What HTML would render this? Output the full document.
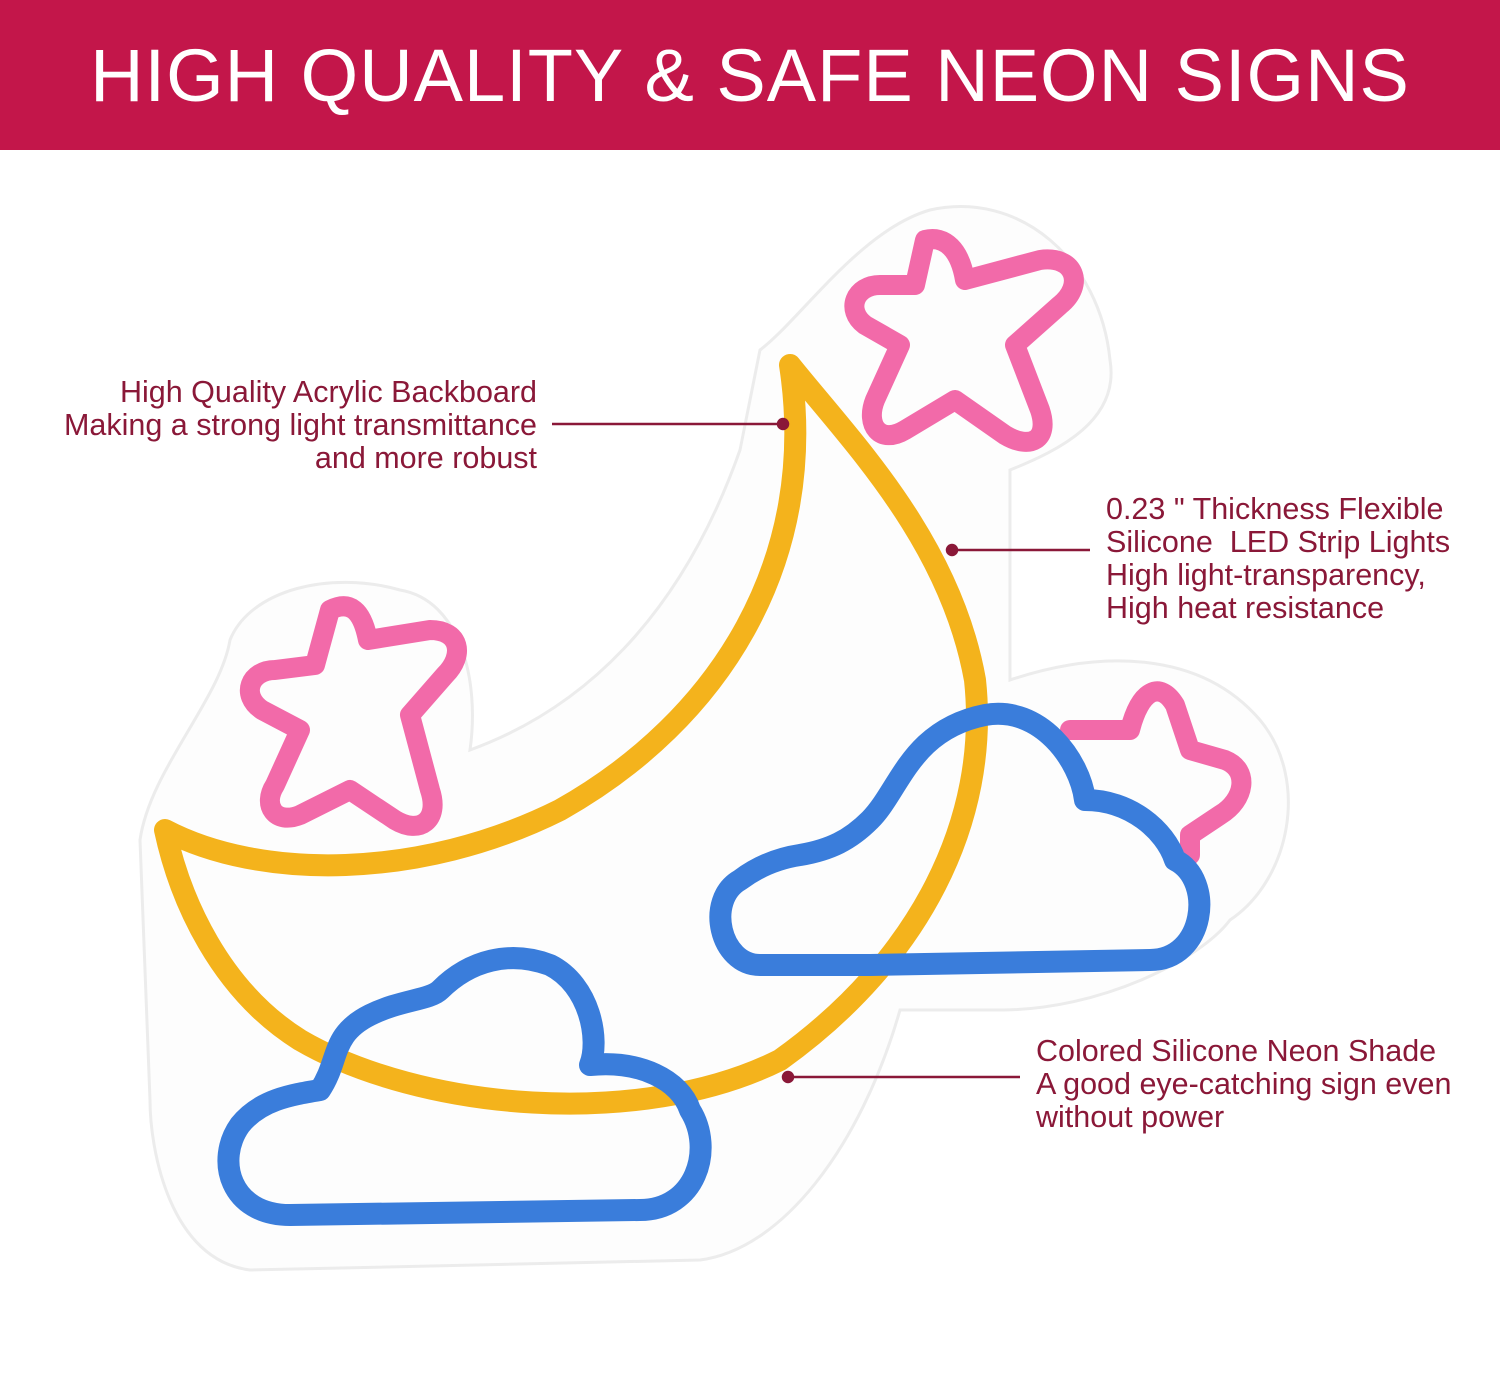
<!DOCTYPE html>
<html><head><meta charset="utf-8"><style>
body{margin:0;width:1500px;height:1374px;background:#fff;overflow:hidden;font-family:"Liberation Sans",sans-serif}
.hdr{position:absolute;left:0;top:0;width:1500px;height:150px;background:#c3164a;color:#fff;font-size:74px;text-align:center;line-height:152px;letter-spacing:1px}
.t{position:absolute;color:#8a1838;font-size:30.5px;line-height:33px}
</style></head><body>
<div class="hdr">HIGH QUALITY &amp; SAFE NEON SIGNS</div>
<svg width="1500" height="1374" style="position:absolute;left:0;top:0">
<path d="M760,350 C800,320 860,230 930,210 C1020,190 1100,260 1110,360 C1120,420 1060,450 1010,470 L1010,680 C1100,650 1200,650 1260,720 C1310,780 1290,880 1230,920 C1200,960 1100,1010 1000,1010 L900,1010 C860,1150 780,1250 700,1260 L250,1270 C170,1260 150,1150 150,1100 L140,840 C150,770 220,700 230,640 C250,590 330,570 400,590 C460,600 480,680 470,750 C580,710 680,620 740,450 Z" fill="#fdfdfd" stroke="#ececec" stroke-width="3"/>
<g fill="none" stroke-linejoin="round" stroke-linecap="round">
<path d="M790,365 C850,440 950,540 975,680 C990,820 920,960 780,1060 C640,1130 420,1110 300,1040 C220,990 180,900 165,830 C260,880 420,880 560,810 C720,720 820,560 790,365 Z" stroke="#f4b31c" stroke-width="22"/>
<path d="M925,240 C945,235 960,250 965,280 L1040,260 C1075,255 1085,285 1060,305 L1015,345 L1040,410 C1050,440 1030,450 1005,435 L955,400 L905,430 C880,445 865,425 875,400 L900,345 L865,325 C845,310 855,285 880,285 L915,285 Z" stroke="#f26aa9" stroke-width="20"/>
<path d="M330,610 C350,600 362,610 368,640 L430,630 C460,630 465,655 445,675 L410,715 L430,790 C440,820 420,835 395,820 L350,790 L300,815 C275,825 262,805 275,785 L300,730 L262,710 C240,695 250,670 275,670 L315,665 Z" stroke="#f26aa9" stroke-width="20"/>
<path d="M1070,730 L1130,730 C1140,690 1160,680 1175,705 L1190,750 L1225,760 C1250,770 1245,800 1220,815 L1190,835 L1190,855" stroke="#f26aa9" stroke-width="20"/>
<path d="M800,855 C830,850 850,840 870,820 C900,790 910,730 985,715 C1040,705 1080,760 1085,800 C1130,800 1165,830 1175,860 C1215,880 1205,960 1150,960 L870,965 L760,965 C720,965 705,900 740,880 C760,865 780,858 800,855 Z" stroke="#3a7ddb" stroke-width="22"/>
<path d="M320,1090 C340,1060 330,1035 370,1015 C400,1000 430,1000 440,990 C470,960 510,950 550,965 C590,985 600,1040 590,1065 C640,1060 680,1080 690,1110 C715,1150 695,1210 640,1210 L290,1215 C230,1215 215,1160 240,1125 C260,1100 290,1095 320,1090 Z" stroke="#3a7ddb" stroke-width="22"/>
</g>
<g stroke="#8a1838" stroke-width="2.5" fill="#8a1838">
<line x1="552" y1="424" x2="783" y2="424"/><circle cx="783" cy="424" r="5"/>
<line x1="952" y1="550" x2="1090" y2="550"/><circle cx="952" cy="550" r="5"/>
<line x1="788" y1="1077" x2="1020" y2="1077"/><circle cx="788" cy="1077" r="5"/>
</g>
</svg>
<div class="t" style="right:963px;top:376px;text-align:right">High Quality Acrylic Backboard<br>Making a strong light transmittance<br>and more robust</div>
<div class="t" style="left:1106px;top:493px">0.23 " Thickness Flexible<br>Silicone&nbsp; LED Strip Lights<br>High light-transparency,<br>High heat resistance</div>
<div class="t" style="left:1036px;top:1035px">Colored Silicone Neon Shade<br>A good eye-catching sign even<br>without power</div>
</body></html>
